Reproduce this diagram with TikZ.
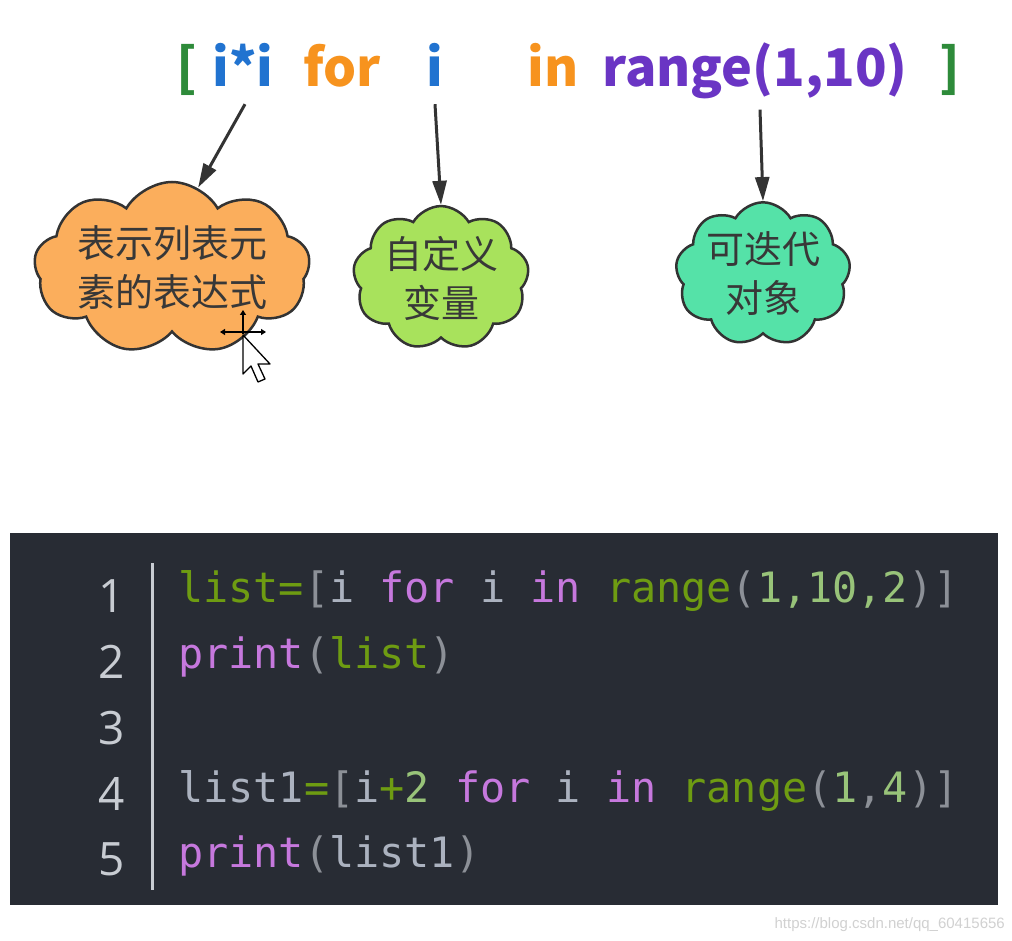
\documentclass[tikz,border=0pt]{standalone}
\usepackage{fontspec}
\usetikzlibrary{arrows.meta,shapes.symbols}
\newfontfamily\cjk{Noto Sans CJK SC}
\newfontfamily\codefont{DejaVu Sans Mono}
\newfontfamily\numfont{Open Sans}
\newfontfamily\urlfont{Liberation Sans}
\definecolor{bracketgreen}{HTML}{2E8B3A}
\definecolor{varblue}{HTML}{2173D0}
\definecolor{kworange}{HTML}{F7931E}
\definecolor{rangepurple}{HTML}{6A35C4}
\definecolor{cloudorange}{HTML}{FBAE5C}
\definecolor{cloudgreen}{HTML}{A8E25C}
\definecolor{cloudteal}{HTML}{55E2A8}
\definecolor{codebg}{HTML}{282C34}
\definecolor{gutter}{HTML}{C8CCD2}
\definecolor{plain}{HTML}{ABB2BF}
\definecolor{punct}{HTML}{8C9097}
\definecolor{keyword}{HTML}{C678DD}
\definecolor{ident}{HTML}{6E9C12}
\definecolor{numlit}{HTML}{98C379}

\begin{document}
\begin{tikzpicture}[x=1pt,y=-1pt,
  token/.style={anchor=base,inner sep=0pt,font=\cjk\bfseries\fontsize{52}{58}\selectfont},
  thought/.style={cloud,cloud puffs=9,cloud puff arc=120,cloud ignores aspect,inner sep=0pt,
    draw=black!80,line width=2.5pt,align=center,text=black!78,
    font=\cjk\fontsize{38}{49}\selectfont},
  pointer/.style={-{Triangle[length=24pt,width=14pt]},draw=black!80,line width=3pt},
  lineno/.style={anchor=base east,inner sep=0pt,text=gutter,font=\numfont\fontsize{46}{50}\selectfont},
  codeline/.style={anchor=base west,inner sep=0pt,font=\codefont\fontsize{41.8}{50}\selectfont}]
  \useasboundingbox (0,0) rectangle (1012,941);
  \fill[white] (0,0) rectangle (1012,941);

  % the comprehension, token by token
  \node[token,text=bracketgreen] (lbrack) at (187,87) {[};
  \node[token,text=varblue] (tokexpr) at (243,87) {i*i};
  \node[token,text=kworange] (tokfor) at (342,87) {for};
  \node[token,text=varblue] (tokvar) at (435,87) {i};
  \node[token,text=kworange] (tokin) at (553,87) {in};
  \node[token,text=rangepurple] (tokiter) at (755,87) {range(1,10)};
  \node[token,text=bracketgreen] (rbrack) at (950,87) {]};

  % clouds
  \node[thought,fill=cloudorange,minimum width=262pt,minimum height=172pt]
    (cexpr) at (172,268) {表示列表元\\素的表达式};
  \node[thought,fill=cloudgreen,minimum width=176pt,minimum height=130pt]
    (cvar) at (441,278) {自定义\\变量};
  \node[thought,fill=cloudteal,minimum width=175pt,minimum height=129pt]
    (citer) at (763,274) {可迭代\\对象};

  \draw[pointer] ([xshift=2pt,yshift=-17pt]tokexpr.south) -- (cexpr.72);
  \draw[pointer] ([yshift=-17pt]tokvar.south) -- (cvar.north);
  \draw[pointer] ([xshift=5pt,yshift=-10pt]tokiter.south) -- (citer.north);

  % mouse cursor over the first cloud
  \draw[black,line width=1.5pt,{Triangle[length=5pt,width=6pt]}-{Triangle[length=5pt,width=6pt]}]
    (220,332) -- (266,332);
  \draw[black,line width=1.5pt,-{Triangle[length=5pt,width=6pt]}] (243,334) -- (243,310);
  \draw[fill=white,draw=black,line width=1.3pt,line join=round]
    (243,335) -- (243,374) -- (251,366) -- (258,382) -- (265,379) -- (258,364) -- (270,364) -- cycle;

  % code listing
  \fill[codebg] (10,533) rectangle (998,905);
  \draw[gutter,line width=3pt] (152,563) -- (152,890);
  \foreach \n/\yy in {1/612,2/678,3/744,4/810,5/875}{
    \node[lineno] (ln\n) at (125,\yy) {\n};
  }
  \newcommand{\ckw}[1]{\textcolor{keyword}{#1}}
  \newcommand{\cid}[1]{\textcolor{ident}{#1}}
  \newcommand{\cpu}[1]{\textcolor{punct}{#1}}
  \newcommand{\cnum}[1]{\textcolor{numlit}{#1}}
  \newcommand{\cpl}[1]{\textcolor{plain}{#1}}
  \node[codeline] (code1) at (178,602)
    {\cid{list=}\cpu{[}\cpl{i} \ckw{for} \cpl{i} \ckw{in} \cid{range}\cpu{(}\cnum{1,10,2}\cpu{)]}};
  \node[codeline] (code2) at (178,668) {\ckw{print}\cpu{(}\cid{list}\cpu{)}};
  \node[codeline] (code4) at (178,802)
    {\cpl{list1}\cid{=}\cpu{[}\cpl{i}\cid{+}\cnum{2} \ckw{for} \cpl{i} \ckw{in} \cid{range}\cpu{(}\cnum{1}\cpu{,}\cnum{4}\cpu{)]}};
  \node[codeline] (code5) at (178,867) {\ckw{print}\cpu{(}\cpl{list1}\cpu{)}};

  \node[anchor=base east,inner sep=0pt,text=black!18,font=\urlfont\fontsize{15}{18}\selectfont]
    (watermark) at (1005,928) {https://blog.csdn.net/qq\_60415656};
\end{tikzpicture}
\end{document}
